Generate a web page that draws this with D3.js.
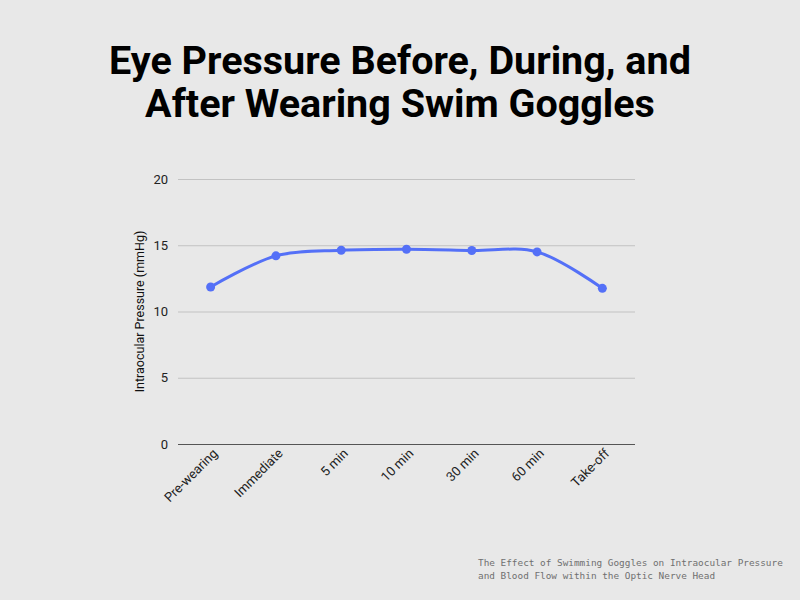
<!DOCTYPE html>
<html>
<head>
<meta charset="utf-8">
<script src="https://cdn.jsdelivr.net/npm/d3@7"></script>
<style>
  body { margin: 0; background: #e8e8e8; }
  svg { display: block; }
</style>
</head>
<body>
<div id="chart"></div>
<script>
// values
var stages = ["Pre-wearing", "Immediate", "5 min", "10 min", "30 min", "60 min", "Take-off"]
var pressure = [11.85, 14.2, 14.62, 14.7, 14.6, 14.5, 11.75]
var yTicks = [0, 5, 10, 15, 20]
var titleLines = ["Eye Pressure Before, During, and", "After Wearing Swim Goggles"]
var sourceLines = ["The Effect of Swimming Goggles on Intraocular Pressure", "and Blood Flow within the Optic Nerve Head"]

var width = 800, height = 600
var margin = {top: 179, right: 165, bottom: 156, left: 178}

var svg = d3.select("#chart")
  .append("svg")
  .attr("width", width)
  .attr("height", height)

svg.append("rect")
  .attr("width", width)
  .attr("height", height)
  .attr("fill", "#e8e8e8")

// title, one text block with a tspan per line
svg.append("text")
  .attr("text-anchor", "middle")
  .style("font-family", "Roboto, sans-serif")
  .style("font-weight", "bold")
  .style("font-size", "39.5px")
  .style("fill", "#000")
  .selectAll("tspan")
  .data(titleLines)
  .enter()
  .append("tspan")
    .attr("x", 400)
    .attr("y", function(d, i) { return 74 + i * 43 })
    .text(function(d) { return d })

var x = d3.scalePoint()
  .domain(stages)
  .range([margin.left, width - margin.right])
  .padding(0.5)

var y = d3.scaleLinear()
  .domain([0, 20])
  .range([height - margin.bottom, margin.top])

// grid + y labels
var yAxis = svg.append("g")
  .attr("transform", "translate(" + margin.left + ",0)")
  .call(d3.axisLeft(y).tickValues(yTicks).tickSize(-(width - margin.left - margin.right)).tickPadding(10))
yAxis.select(".domain").remove()
yAxis.selectAll(".tick line")
  .attr("stroke", function(d) { return d === 0 ? "#555" : "#c2c2c2" })
  .attr("stroke-width", 1)
yAxis.selectAll(".tick text")
  .style("font-family", "Roboto, sans-serif")
  .style("font-size", "13px")
  .style("fill", "#222")

// x labels
var xAxis = svg.append("g")
  .attr("transform", "translate(0," + (height - margin.bottom) + ")")
  .call(d3.axisBottom(x).tickSize(0))
xAxis.select(".domain").remove()
xAxis.selectAll(".tick text")
  .attr("text-anchor", "end")
  .attr("transform", "translate(4,7) rotate(-45)")
  .attr("dy", "0.35em")
  .attr("y", 0)
  .style("font-family", "Roboto, sans-serif")
  .style("font-size", "13px")
  .style("fill", "#222")

// y axis title
svg.append("text")
  .attr("transform", "translate(144," + y(10) + ") rotate(-90)")
  .attr("text-anchor", "middle")
  .style("font-family", "Roboto, sans-serif")
  .style("font-size", "12.5px")
  .style("fill", "#111")
  .text("Intraocular Pressure (mmHg)")

// line
var line = d3.line()
  .x(function(d, i) { return x(stages[i]) })
  .y(function(d) { return y(d) })
  .curve(d3.curveCatmullRom.alpha(0.5))

svg.append("path")
  .datum(pressure)
  .attr("fill", "none")
  .attr("stroke", "#5470f7")
  .attr("stroke-width", 3)
  .attr("d", line)

svg.selectAll(".dot")
  .data(pressure)
  .enter()
  .append("circle")
    .attr("class", "dot")
    .attr("cx", function(d, i) { return x(stages[i]) })
    .attr("cy", function(d) { return y(d) })
    .attr("r", 4.5)
    .attr("fill", "#5470f7")

// source note
svg.append("g")
  .selectAll("text")
  .data(sourceLines)
  .enter()
  .append("text")
    .attr("x", 478)
    .attr("y", function(d, i) { return 566 + i * 13 })
    .style("font-family", "'DejaVu Sans Mono', monospace")
    .style("font-size", "9.4px")
    .style("fill", "#707070")
    .text(function(d) { return d })
</script>
</body>
</html>
